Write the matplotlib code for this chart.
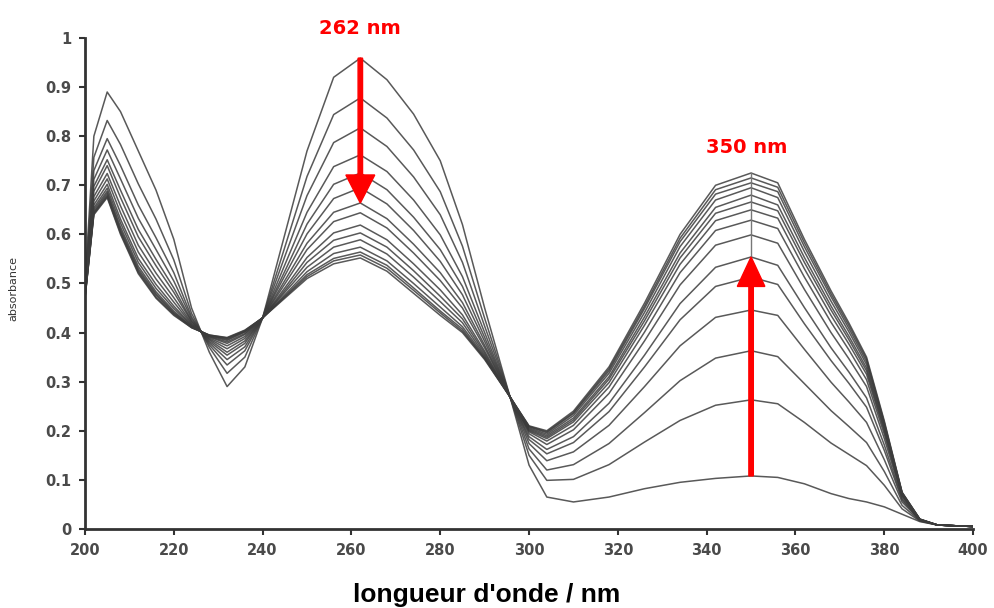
import matplotlib
matplotlib.use("Agg")
import matplotlib.pyplot as plt

# Wavelength grid (nm) shared by every spectrum
wavelengths = [200, 202, 205, 208, 212, 216, 220, 224, 228, 232, 236, 240, 245, 250,
               256, 262, 268, 274, 280, 285, 290, 296, 300, 304, 310, 318, 326, 334,
               342, 350, 356, 362, 368, 372, 376, 380, 384, 388, 392, 400]

# Absorbance spectra recorded during the titration (first to last)
spec_00 = [.500, .800, .890, .850, .770, .690, .590, .450, .360, .290, .330, .430, .600, .770, .920, .959, .915, .845, .750, .620, .450, .260, .130, .065, .055, .065, .082, .095, .103, .108, .105, .092, .072, .062, .055, .045, .030, .015, .008, .005]
spec_01 = [.492, .757, .832, .783, .703, .631, .548, .439, .370, .317, .350, .430, .574, .718, .844, .878, .837, .772, .687, .576, .429, .261, .150, .099, .101, .131, .177, .221, .252, .263, .255, .217, .175, .152, .129, .089, .041, .016, .008, .005]
spec_02 = [.487, .730, .795, .740, .660, .593, .522, .432, .375, .334, .363, .430, .555, .679, .787, .817, .779, .717, .640, .543, .413, .262, .163, .120, .131, .174, .237, .302, .348, .363, .351, .296, .241, .209, .176, .117, .048, .017, .008, .005]
spec_03 = [.484, .712, .772, .713, .633, .569, .505, .428, .379, .345, .371, .430, .538, .645, .738, .762, .728, .670, .599, .514, .400, .262, .174, .139, .157, .211, .290, .373, .431, .446, .435, .366, .299, .259, .217, .141, .055, .018, .008, .005]
spec_04 = [.481, .698, .752, .690, .610, .549, .491, .424, .382, .354, .378, .430, .525, .621, .702, .725, .691, .635, .569, .494, .390, .263, .182, .153, .176, .239, .330, .426, .494, .513, .498, .418, .343, .297, .248, .160, .059, .018, .008, .005]
spec_05 = [.479, .688, .740, .675, .595, .536, .482, .422, .385, .360, .383, .430, .516, .601, .673, .695, .662, .608, .545, .477, .382, .263, .188, .162, .188, .256, .354, .459, .533, .554, .537, .451, .369, .320, .267, .171, .062, .018, .008, .005]
spec_06 = [.477, .677, .724, .658, .578, .521, .471, .419, .387, .367, .388, .430, .506, .582, .645, .664, .632, .580, .522, .461, .374, .264, .194, .172, .202, .276, .383, .497, .578, .599, .582, .488, .400, .347, .290, .184, .066, .019, .008, .005]
spec_07 = [.475, .668, .713, .644, .564, .509, .462, .417, .389, .373, .392, .430, .499, .569, .626, .644, .613, .562, .506, .450, .369, .264, .198, .179, .211, .289, .401, .522, .608, .629, .612, .513, .421, .365, .304, .193, .068, .019, .008, .005]
spec_08 = [.474, .660, .702, .631, .551, .498, .454, .415, .391, .378, .396, .430, .491, .553, .603, .619, .589, .540, .487, .436, .362, .264, .200, .184, .218, .298, .415, .539, .628, .650, .633, .530, .435, .377, .315, .199, .070, .019, .008, .005]
spec_09 = [.473, .654, .694, .623, .543, .490, .449, .414, .392, .381, .398, .430, .486, .543, .588, .603, .574, .526, .474, .428, .358, .264, .202, .187, .222, .305, .424, .552, .643, .666, .648, .543, .446, .386, .322, .203, .071, .019, .008, .005]
spec_10 = [.472, .650, .688, .615, .535, .483, .444, .412, .393, .384, .401, .430, .482, .533, .574, .589, .560, .513, .463, .420, .354, .265, .204, .190, .226, .310, .432, .562, .655, .680, .660, .553, .454, .393, .328, .207, .072, .019, .008, .005]
spec_11 = [.471, .646, .684, .610, .530, .479, .441, .412, .394, .386, .402, .430, .477, .524, .561, .574, .546, .500, .452, .412, .351, .265, .206, .193, .231, .317, .441, .575, .670, .695, .675, .565, .464, .402, .335, .211, .073, .020, .008, .005]
spec_12 = [.471, .644, .680, .606, .526, .476, .439, .411, .394, .388, .403, .430, .474, .518, .551, .564, .537, .491, .444, .407, .348, .265, .208, .196, .235, .322, .449, .585, .682, .705, .687, .575, .473, .409, .341, .215, .074, .020, .008, .005]
spec_13 = [.470, .642, .677, .603, .523, .472, .437, .410, .395, .389, .404, .430, .472, .514, .546, .558, .531, .486, .440, .403, .347, .265, .209, .198, .237, .326, .454, .592, .691, .715, .696, .583, .479, .415, .346, .217, .074, .020, .008, .005]
spec_14 = [.470, .640, .675, .600, .520, .470, .435, .410, .395, .390, .405, .430, .470, .510, .540, .552, .525, .480, .435, .400, .345, .265, .210, .200, .240, .330, .460, .600, .700, .725, .705, .590, .485, .420, .350, .220, .075, .020, .008, .005]

spectra = [spec_00, spec_01, spec_02, spec_03, spec_04, spec_05, spec_06, spec_07,
           spec_08, spec_09, spec_10, spec_11, spec_12, spec_13, spec_14]

# Band maxima highlighted by the arrows: (wavelength, start, end)
band_262 = (262, spec_00[15], spec_06[15])
band_350 = (350, spec_00[29], spec_05[29])

x_ticks = [200, 220, 240, 260, 280, 300, 320, 340, 360, 380, 400]
y_ticks = [0, 0.1, 0.2, 0.3, 0.4, 0.5, 0.6, 0.7, 0.8, 0.9, 1]
y_tick_labels = ["0", "0.1", "0.2", "0.3", "0.4", "0.5", "0.6", "0.7", "0.8", "0.9", "1"]

fig = plt.figure(figsize=(9.94, 6.08), dpi=100)
ax = fig.add_axes([0.0855, 0.130, 0.8935, 0.8075])

for s in spectra:
    ax.plot(wavelengths, s, color="#3c3c3c", lw=1.1, alpha=0.85, solid_joinstyle="round")

# cursor line at 350 nm through the upper spectra
ax.plot([350, 350], [spec_05[29], spec_14[29]], color="#777777", lw=1.0)

ax.set_xlim(200, 400)
ax.set_ylim(0, 1)
ax.set_xticks(x_ticks)
ax.set_yticks(y_ticks)
ax.set_yticklabels(y_tick_labels)
for side in ("top", "right"):
    ax.spines[side].set_visible(False)
for side in ("left", "bottom"):
    ax.spines[side].set_linewidth(2.0)
    ax.spines[side].set_color("#333333")
ax.tick_params(direction="out", length=4, width=1.5, color="#333333",
               labelsize=10.5, labelcolor="#4a4a4a", pad=6)
for lab in ax.get_xticklabels() + ax.get_yticklabels():
    lab.set_fontweight("bold")

ax.set_ylabel("absorbance", fontsize=8, color="#333333")
ax.yaxis.set_label_coords(-0.075, 0.49)
fig.text(487 / 994, 1 - 595 / 608, "longueur d'onde / nm", fontsize=19, fontweight="bold",
         family=["Liberation Sans", "DejaVu Sans"], color="black", ha="center", va="center")

# red arrows marking the evolution of the two bands
wl, y0, y1 = band_262
ax.arrow(wl, y0, 0, y1 - y0, width=1.0, head_width=6.5, head_length=0.057,
         length_includes_head=True, color="#ff0000", zorder=5)
ax.text(wl, 1.02, "262 nm", color="#ff0000", fontsize=14, fontweight="bold",
        ha="center", va="center", clip_on=False)

wl, y0, y1 = band_350
ax.arrow(wl, y0, 0, y1 - y0, width=1.0, head_width=6.2, head_length=0.060,
         length_includes_head=True, color="#ff0000", zorder=5)
ax.text(wl - 1, 0.777, "350 nm", color="#ff0000", fontsize=14, fontweight="bold",
        ha="center", va="center")

fig.savefig("out.png", dpi=100, facecolor="white")
